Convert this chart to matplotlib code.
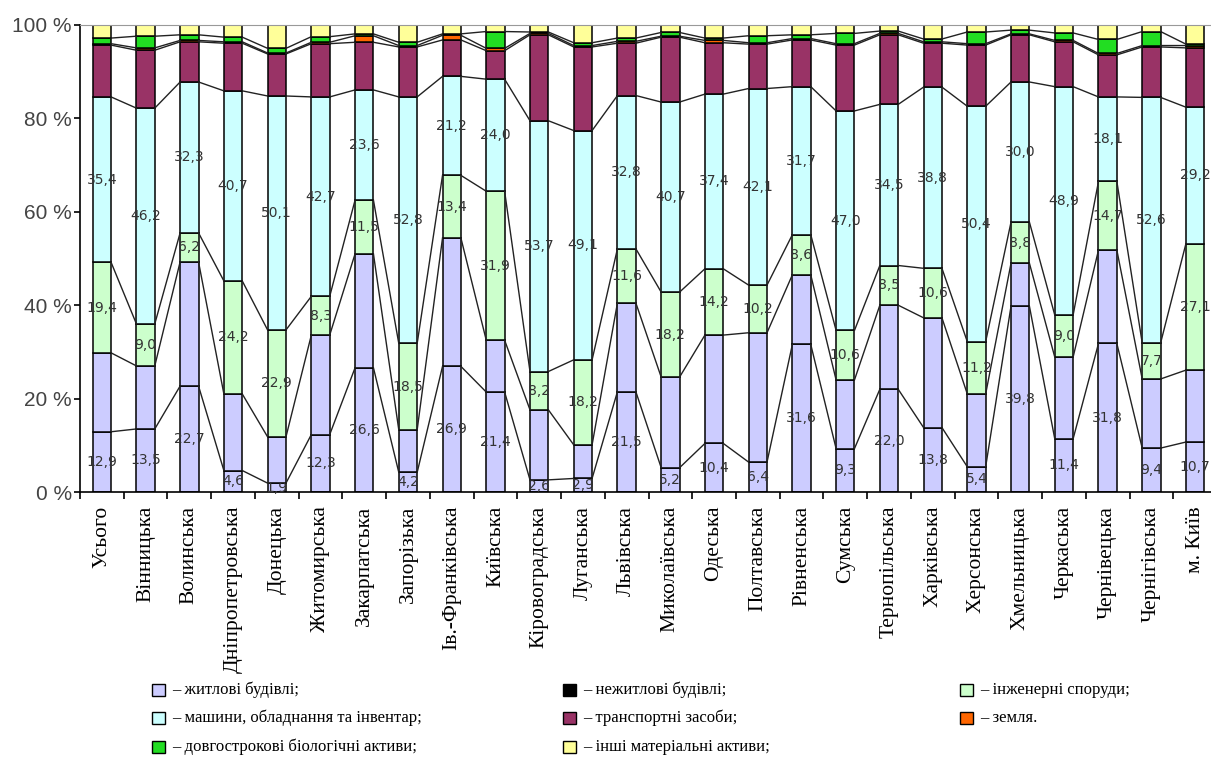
import numpy as np
import matplotlib.pyplot as plt
from matplotlib.patches import Rectangle

regions = ['Усього', 'Вінницька', 'Волинська', 'Дніпропетровська', 'Донецька',
           'Житомирська', 'Закарпатська', 'Запорізька', 'Ів.-Франківська', 'Київська',
           'Кіровоградська', 'Луганська', 'Львівська', 'Миколаївська', 'Одеська',
           'Полтавська', 'Рівненська', 'Сумська', 'Тернопільська', 'Харківська',
           'Херсонська', 'Хмельницька', 'Черкаська', 'Чернівецька', 'Чернігівська',
           'м. Київ']

# structure of fixed assets, % of total
residential = [12.9, 13.5, 22.7, 4.6, 1.9, 12.3, 26.6, 4.2, 26.9, 21.4, 2.6, 2.9, 21.5,
               5.2, 10.4, 6.4, 31.6, 9.3, 22.0, 13.8, 5.4, 39.8, 11.4, 31.8, 9.4, 10.7]
nonresidential = [16.9, 13.5, 26.6, 16.4, 9.9, 21.3, 24.4, 9.1, 27.5, 11.1, 15.0, 7.2, 19.0,
                  19.4, 23.2, 27.7, 14.9, 14.7, 18.0, 23.5, 15.6, 9.2, 17.5, 20.0, 14.8, 15.4]
engineering = [19.4, 9.0, 6.2, 24.2, 22.9, 8.3, 11.5, 18.5, 13.4, 31.9, 8.2, 18.2, 11.6,
               18.2, 14.2, 10.2, 8.6, 10.6, 8.5, 10.6, 11.2, 8.8, 9.0, 14.7, 7.7, 27.1]
machinery = [35.4, 46.2, 32.3, 40.7, 50.1, 42.7, 23.6, 52.8, 21.2, 24.0, 53.7, 49.1, 32.8,
             40.7, 37.4, 42.1, 31.7, 47.0, 34.5, 38.8, 50.4, 30.0, 48.9, 18.1, 52.6, 29.2]
transport = [11.1, 12.4, 8.6, 10.2, 9.0, 11.4, 10.2, 10.7, 7.8, 6.1, 18.4, 17.9, 11.2,
             13.9, 11.0, 9.5, 10.0, 14.1, 14.9, 9.4, 13.1, 10.1, 9.6, 9.0, 10.8, 12.7]
land = [0.3, 0.5, 0.3, 0.3, 0.2, 0.3, 1.4, 0.3, 1.0, 0.5, 0.3, 0.3, 0.4,
        0.2, 0.5, 0.3, 0.3, 0.3, 0.3, 0.3, 0.3, 0.2, 0.3, 0.3, 0.3, 0.5]
biological = [1.2, 2.5, 1.2, 1.0, 1.0, 1.2, 0.4, 0.7, 0.3, 3.6, 0.3, 0.6, 0.7,
              0.8, 0.5, 1.5, 0.8, 2.2, 0.5, 0.6, 2.5, 0.8, 1.6, 3.0, 3.0, 0.3]
other = [2.8, 2.4, 2.1, 2.6, 5.0, 2.5, 1.9, 3.7, 1.9, 1.4, 1.5, 3.8, 2.8,
         1.6, 2.8, 2.3, 2.1, 1.8, 1.3, 3.0, 1.5, 1.1, 1.7, 3.1, 1.4, 4.1]

series = [residential, nonresidential, engineering, machinery, transport, land, biological, other]
colors = ['#CCCCFF', '#CCCCFF', '#CCFFCC', '#CCFFFF', '#993366', '#FF6600', '#22DD22', '#FFFF99']
labelled = [0, 2, 3]

legend_items = [
    ('#CCCCFF', '– житлові будівлі;'),
    ('#CCFFFF', '– машини, обладнання та інвентар;'),
    ('#22DD22', '– довгострокові біологічні активи;'),
    ('#000000', '– нежитлові будівлі;'),
    ('#993366', '– транспортні засоби;'),
    ('#FFFF99', '– інші матеріальні активи;'),
    ('#CCFFCC', '– інженерні споруди;'),
    ('#FF6600', '– земля.'),
]

fig = plt.figure(figsize=(12.11, 7.58), dpi=100)
ax = fig.add_axes([80 / 1211, 266 / 758, 1137 / 1211, 467 / 758])

x = np.arange(len(regions))
w = 0.42
bottom = np.zeros(len(regions))
for k, vals in enumerate(series):
    vals = np.array(vals)
    ax.bar(x, vals, w, bottom=bottom, color=colors[k], edgecolor='black', linewidth=1.1, zorder=2)
    if k in labelled:
        for xi, b, v in zip(x, bottom, vals):
            ax.text(xi, b + v / 2, ('%.1f' % v).replace('.', ','), ha='center', va='center',
                    fontsize=10, color='#333333', zorder=4)
    bottom = bottom + vals
    # series lines between neighbouring bars
    if k < len(series) - 1:
        xs = np.column_stack([x[:-1] + w / 2, x[1:] - w / 2, np.full(len(x) - 1, np.nan)]).ravel()
        ys = np.column_stack([bottom[:-1], bottom[1:], np.full(len(x) - 1, np.nan)]).ravel()
        ax.plot(xs, ys, color='#222222', linewidth=1.0, zorder=3)

ax.set_xlim(-0.5, 25.5)
ax.set_ylim(0, 100)
ax.set_yticks(np.arange(0, 101, 20))
ax.set_yticklabels(['%d %%' % v for v in range(0, 101, 20)], fontsize=15,
                   family='Liberation Sans', color='#444444')
ax.set_xticks(x)
ax.set_xticklabels(regions, rotation=90, fontsize=15.5, family='Liberation Serif', va='top')
ax.set_xticks(np.arange(-0.5, 25.6, 1), minor=True)
ax.tick_params(axis='x', which='major', length=0, pad=10)
ax.tick_params(axis='x', which='minor', length=5, width=1.2, direction='out')
ax.tick_params(axis='y', length=4, width=1.2, direction='out', pad=2)
ax.spines['right'].set_visible(False)
ax.spines['top'].set_color('#999999')
ax.spines['left'].set_linewidth(1.2)
ax.spines['bottom'].set_linewidth(1.2)

# legend in three columns under the chart
col_x = [152, 563, 960]
row_y = [690, 718, 747]
for n, (c, txt) in enumerate(legend_items):
    col, row = divmod(n, 3)
    px, py = col_x[col], row_y[row]
    fig.patches.append(Rectangle((px / 1211, 1 - (py + 6) / 758), 13 / 1211, 12 / 758,
                                 facecolor=c, edgecolor='black', linewidth=1.0,
                                 transform=fig.transFigure))
    fig.text((px + 20) / 1211, 1 - py / 758, txt, fontsize=12, family='Liberation Serif',
             va='center', ha='left')

fig.savefig('out.png', dpi=100)
